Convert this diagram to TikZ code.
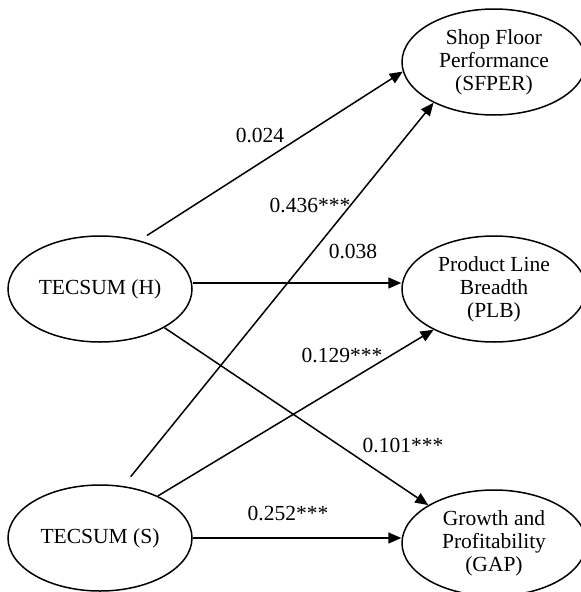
\documentclass[tikz,border=0pt]{standalone}
\usepackage{fontspec}
\setmainfont{Liberation Serif}
\usetikzlibrary{arrows.meta, positioning, shapes.geometric}

\begin{document}
\begin{tikzpicture}[x=1pt, y=-1pt, >={Triangle[length=13pt, width=11pt]}, line width=1.5pt,
  construct/.style={draw, ellipse, minimum width=184pt, minimum height=106pt, inner sep=0pt,
    align=center, font=\fontsize{21.5}{23}\selectfont},
  coef/.style={font=\fontsize{21.5}{23}\selectfont, inner sep=0pt}]

\useasboundingbox (0,0) rectangle (581,592);

% Predictors
\node[construct] (tecH) at (100,289) {TECSUM (H)};
\node[construct] (tecS) at (100,538) {TECSUM (S)};

% Outcomes
\node[construct] (sfper) at (494,62) {Shop Floor\\Performance\\(SFPER)};
\node[construct] (plb) at (494,289) {Product Line\\Breadth\\(PLB)};
\node[construct] (gap) at (494,543) {Growth and\\Profitability\\(GAP)};

% Paths
\draw[->, shorten <=9pt] (tecH.51) -- (sfper.186);
\draw[->] ([yshift=6pt]tecH.east) -- ([yshift=6pt]tecH.east -| plb.west);
\draw[->] (tecH.-31) -- (gap.150);
\draw[->, shorten <=12pt] (tecS.66) -- (sfper.214);
\draw[->] (tecS.36) -- (plb.214);
\draw[->] (tecS.east) -- (tecS.east -| gap.west);

% Coefficients
\node[coef] (c1) at (260,135) {0.024};
\node[coef] (c2) at (310,205) {0.436***};
\node[coef] (c3) at (353,251) {0.038};
\node[coef] (c4) at (342,355) {0.129***};
\node[coef] (c5) at (403,445) {0.101***};
\node[coef] (c6) at (288,513) {0.252***};

\end{tikzpicture}
\end{document}
